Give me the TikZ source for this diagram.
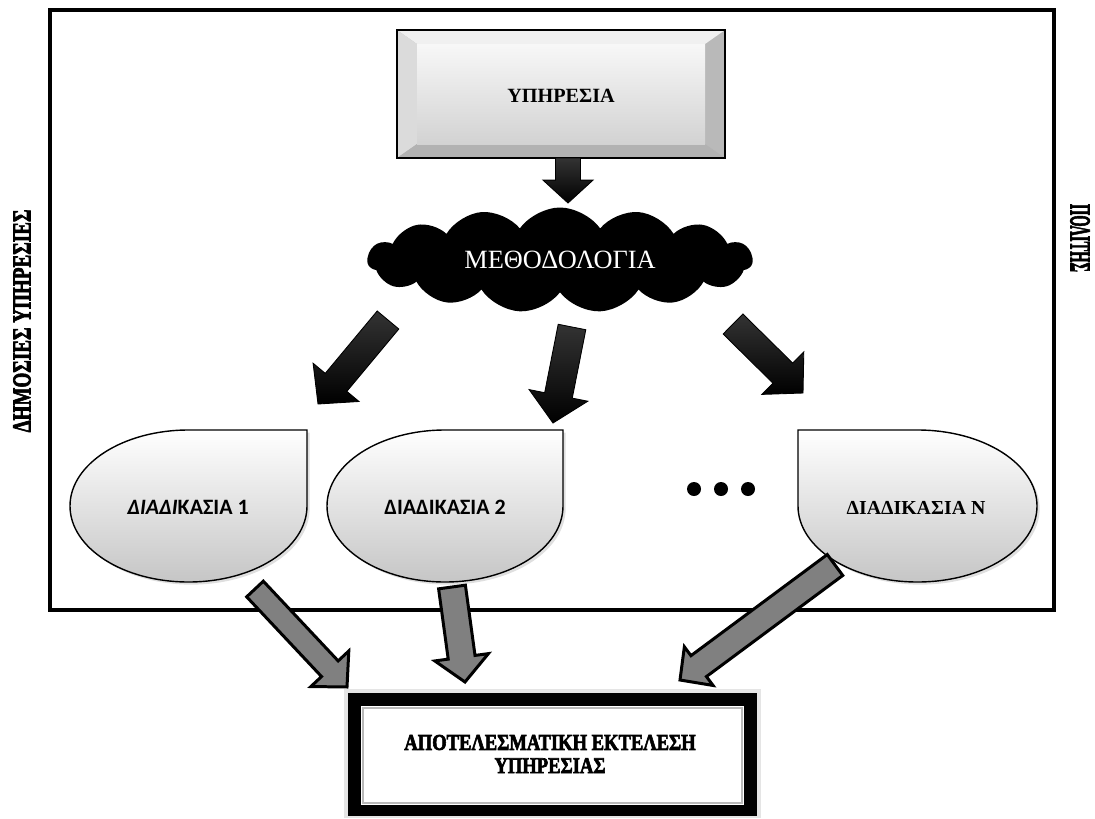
\documentclass[tikz,border=0pt]{standalone}
\usepackage{fontspec}
\setmainfont{Liberation Serif}
\newfontfamily\calib{Carlito}
\newfontfamily\heavy{Liberation Serif Bold}[FakeBold=3]
\usetikzlibrary{calc,shapes.symbols,shadows}

% teardrop with the top-right corner square: style, left, top, right, bottom
\newcommand\dropright[5]{%
  \pgfmathsetmacro\dcx{(#2+#4)/2}\pgfmathsetmacro\dcy{(#3+#5)/2}%
  \pgfmathsetmacro\drx{(#4-#2)/2*0.5523}\pgfmathsetmacro\dry{(#5-#3)/2*0.5523}%
  \path[#1] (#4,#3) -- (#4,\dcy)
    .. controls (#4,\dcy+\dry) and (\dcx+\drx,#5) .. (\dcx,#5)
    .. controls (\dcx-\drx,#5) and (#2,\dcy+\dry) .. (#2,\dcy)
    .. controls (#2,\dcy-\dry) and (\dcx-\drx,#3) .. (\dcx,#3) -- cycle;}
% teardrop with the top-left corner square
\newcommand\dropleft[5]{%
  \pgfmathsetmacro\dcx{(#2+#4)/2}\pgfmathsetmacro\dcy{(#3+#5)/2}%
  \pgfmathsetmacro\drx{(#4-#2)/2*0.5523}\pgfmathsetmacro\dry{(#5-#3)/2*0.5523}%
  \path[#1] (#2,#3) -- (#2,\dcy)
    .. controls (#2,\dcy+\dry) and (\dcx-\drx,#5) .. (\dcx,#5)
    .. controls (\dcx+\drx,#5) and (#4,\dcy+\dry) .. (#4,\dcy)
    .. controls (#4,\dcy-\dry) and (\dcx+\drx,#3) .. (\dcx,#3) -- cycle;}

\begin{document}
\begin{tikzpicture}[x=0.02cm, y=-0.02cm,
  fatarrow/.style n args={3}{to path={
    let \p1=($(\tikztotarget)-(\tikztostart)$),
        \n1={veclen(\x1,\y1)}, \n2={atan2(\y1,\x1)} in
    ($(\tikztostart)+(\n2+90:#1)$)
    -- ($(\tikztostart)+(\n2:\n1-#3)+(\n2+90:#1)$)
    -- ($(\tikztostart)+(\n2:\n1-#3)+(\n2+90:#2)$)
    -- (\tikztotarget)
    -- ($(\tikztostart)+(\n2:\n1-#3)+(\n2-90:#2)$)
    -- ($(\tikztostart)+(\n2:\n1-#3)+(\n2-90:#1)$)
    -- ($(\tikztostart)+(\n2-90:#1)$) -- cycle}},
  blackarrow/.style n args={3}{fatarrow={#1}{#2}{#3}, draw=black, line width=0.5pt,
    top color=black!80, bottom color=black, line join=miter},
  grayarrow/.style n args={3}{fatarrow={#1}{#2}{#3}, fill=gray, draw=black,
    line width=1.7pt, line join=miter},
  dropface/.style={draw=black, line width=0.8pt, top color=white, bottom color=gray!45,
    drop shadow={shadow xshift=1.5pt, shadow yshift=-1.5pt, opacity=0.25}},
  sidelabel/.style={font=\heavy\fontsize{14.7}{16}\selectfont, inner sep=0pt},
]
\useasboundingbox (0,0) rectangle (1095,818);

% outer frame
\draw[line width=2.8pt] (50,10) rectangle (1054,610);

% service box with bevelled edge
\fill[gray!55] (397,30) rectangle (725,158);
\fill[gray!12] (397,30) -- (725,30) -- (705,44) -- (417,44) -- cycle;
\fill[gray!28] (397,30) -- (417,44) -- (417,144) -- (397,158) -- cycle;
\fill[gray!60] (397,158) -- (417,144) -- (705,144) -- (725,158) -- cycle;
\shade[top color=gray!6, bottom color=gray!35] (417,44) rectangle (705,144);
\draw[line width=0.8pt] (397,30) rectangle (725,158);
\node[font=\bfseries\fontsize{11.5}{13}\selectfont] (svc) at (561,96) {ΥΠΗΡΕΣΙΑ};

% methodology cloud
\node[cloud, cloud puffs=15, cloud puff arc=110, aspect=3.6, fill=black,
      minimum width=7.7cm, minimum height=2.1cm, inner sep=0pt,
      text=white, font=\fontsize{15}{16}\selectfont] (meth) at (560,260) {ΜΕΘΟΔΟΛΟΓΙΑ};

% black arrows
\coordinate (ta1) at (568,158);  \coordinate (ta2) at (568,203);
\coordinate (la1) at (388,320);  \coordinate (la2) at (318,404);
\coordinate (ma1) at (572,327);  \coordinate (ma2) at (553,423);
\coordinate (ra1) at (733,324);  \coordinate (ra2) at (803,393);
\draw[blackarrow={7.1pt}{14.2pt}{13pt}] (ta1) to (ta2);
\draw[blackarrow={8pt}{17pt}{16pt}] (la1) to (la2);
\draw[blackarrow={8pt}{17pt}{16pt}] (ma1) to (ma2);
\draw[blackarrow={8pt}{17pt}{16pt}] (ra1) to (ra2);

% process shapes
\dropright{dropface}{70}{430}{307}{582}
\node[font=\calib\bfseries\fontsize{12.5}{14}\selectfont, minimum width=4.74cm, minimum height=3.04cm]
  (d1) at (188,507) {{\itshape ΔΙΑΔΙ}ΚΑΣΙΑ 1};
\dropright{dropface}{327}{430}{563}{582}
\node[font=\calib\bfseries\fontsize{12.5}{14}\selectfont, minimum width=4.72cm, minimum height=3.04cm]
  (d2) at (445,507) {ΔΙΑΔΙΚΑΣΙΑ 2};
\dropleft{dropface}{798}{430}{1037}{582}
\node[font=\bfseries\fontsize{11.3}{13}\selectfont, minimum width=4.78cm, minimum height=3.04cm]
  (dn) at (916,508) {ΔΙΑΔΙΚΑΣΙΑ Ν};

% ellipsis dots
\fill (694,489) circle[radius=7];
\fill (721,489) circle[radius=7];
\fill (748,489) circle[radius=7];

% result box
\fill[gray!20] (344,689) rectangle (761,818);
\fill[black] (348,693) rectangle (757,816);
\fill[white] (361,706) rectangle (744,805);
\draw[gray!55, line width=1.2pt] (363,708) rectangle (742,803);
\node[align=center, font=\heavy\fontsize{12.9}{13.2}\selectfont] (res) at (550,754)
  {\scalebox{0.82}[1]{ΑΠΟΤΕΛΕΣΜΑΤΙΚΗ ΕΚΤΕΛΕΣΗ}\\\scalebox{0.82}[1]{ΥΠΗΡΕΣΙΑΣ}};

% gray arrows into the result
\coordinate (g1a) at (255,589);  \coordinate (g1b) at (347,687);
\coordinate (g2a) at (452,587);  \coordinate (g2b) at (465,682);
\coordinate (g3a) at (835,565);  \coordinate (g3b) at (680,680);
\draw[grayarrow={6.5pt}{14.8pt}{14.2pt}] (g1a) to (g1b);
\draw[grayarrow={7.7pt}{15.4pt}{14.2pt}] (g2a) to (g2b);
\draw[grayarrow={7.4pt}{13.7pt}{13.1pt}] (g3a) to (g3b);

% side labels
\node[sidelabel, rotate=90] (pub) at (22,321) {\scalebox{0.74}[1]{ΔΗΜΟΣΙΕΣ ΥΠΗΡΕΣΙΕΣ}};
\node[sidelabel, rotate=-90, font=\heavy\fontsize{16.5}{17}\selectfont] (cit) at (1080,238)
  {\scalebox{0.5}[1]{ΠΟΛΙΤΗΣ}};
\end{tikzpicture}
\end{document}
